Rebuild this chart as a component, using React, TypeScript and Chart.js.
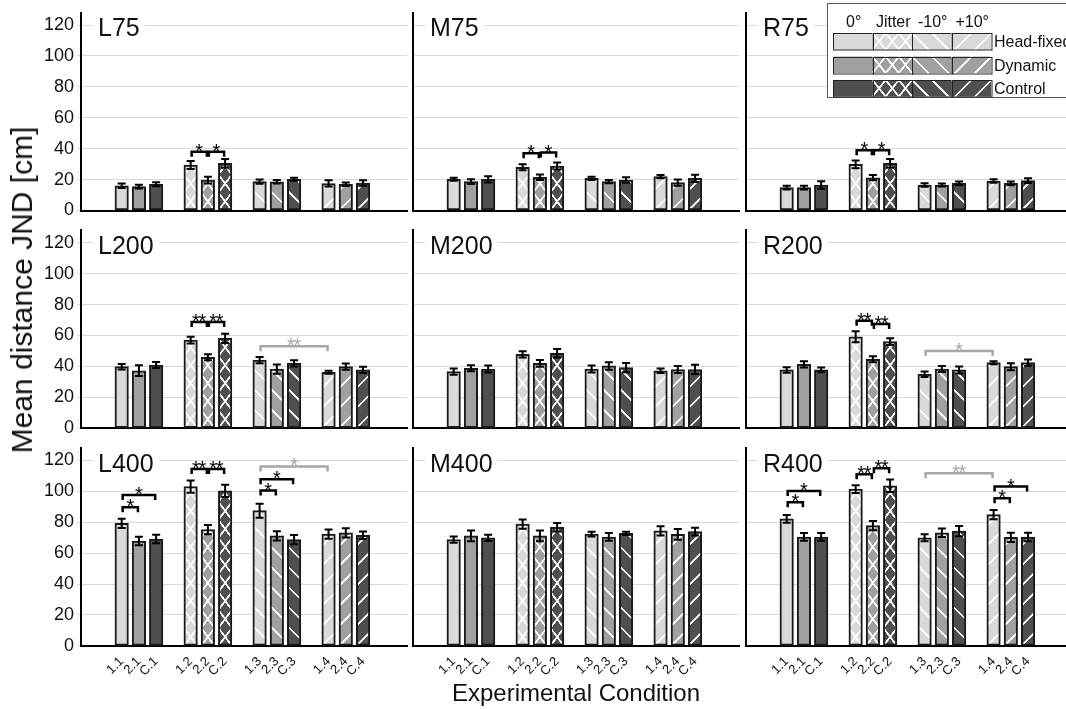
import React, { useEffect, useRef } from 'react';
import { Chart, registerables } from 'chart.js';

Chart.register(...registerables);

const FONT = "'Liberation Sans', Arial, Helvetica, sans-serif";

// ---------- data ----------
const conditionLabels = ['1.1', '2.1', 'C.1', '1.2', '2.2', 'C.2', '1.3', '2.3', 'C.3', '1.4', '2.4', 'C.4'];
const barSlots = [0, 1, 2, 4, 5, 6, 8, 9, 10, 12, 13, 14];
const seriesNames = ['Head-fixed', 'Dynamic', 'Control'];
const angleLabels = ['0°', 'Jitter', '-10°', '+10°'];
const panelNames = [
  ['L75', 'M75', 'R75'],
  ['L200', 'M200', 'R200'],
  ['L400', 'M400', 'R400'],
];
const yMax = 128;
const yStep = 20;

const meanL75 = [16, 15.5, 17, 29.4, 19.7, 30.5, 18.7, 18.6, 20.2, 17.5, 17, 17.8];
const errL75 = [1.5, 1.2, 1.3, 2.6, 2.2, 2.8, 1.4, 1.2, 1.0, 2.0, 1.2, 1.8];
const meanM75 = [20.2, 18.7, 20.2, 28, 21.5, 28.8, 20.8, 18.7, 19.7, 21.9, 18, 20.8];
const errM75 = [1.0, 1.5, 2.0, 2.0, 1.8, 2.3, 1.0, 1.0, 1.8, 1.0, 2.0, 2.3];
const meanR75 = [14.8, 14.8, 16.5, 29.9, 21.2, 30.5, 16.5, 16.5, 17.6, 19.1, 17.6, 19.3];
const errR75 = [1.2, 1.2, 2.5, 2.5, 1.7, 2.8, 1.2, 1.0, 1.2, 1.2, 1.2, 1.5];

const meanL200 = [39.8, 37.2, 40.9, 57, 45.9, 58.2, 44.1, 38.3, 42, 36.2, 39.8, 37.7];
const errL200 = [1.8, 3.5, 2, 2.2, 2, 3, 2, 3, 2, 1, 2, 2];
const meanM200 = [36.6, 38.8, 38.3, 47.8, 42, 48.5, 38.3, 40.3, 39.2, 37.2, 38, 38];
const errM200 = [2, 2, 2.3, 2, 2.2, 2.8, 2.2, 2.4, 3, 1.5, 2.3, 3];
const meanR200 = [37.7, 41.3, 37.7, 59.2, 44.6, 56, 34.9, 38.3, 37.7, 42.4, 39.8, 42.4];
const errR200 = [1.8, 2, 1.5, 3.5, 2, 2.2, 1.8, 2, 2.3, 1, 2.3, 2];

const meanL400 = [79.3, 67.9, 69.2, 103.1, 75.3, 100.3, 87.5, 71.2, 68.8, 72.3, 73.1, 71.6];
const errL400 = [3, 2.7, 2.7, 4, 3, 4, 4.5, 3, 3, 3, 3, 2.5];
const meanM400 = [68.8, 71.2, 69.9, 78.8, 71.2, 76.8, 72.3, 70.5, 72.8, 74.4, 72.2, 74];
const errM400 = [2, 3.5, 2, 3, 3.5, 2.7, 1.5, 2.5, 1, 3, 3.5, 2.5];
const meanR400 = [82.2, 70.5, 70.5, 101.5, 77.9, 103.6, 70, 73.2, 74.3, 84.9, 70.3, 70.5];
const errR400 = [2.5, 2.5, 2.5, 2.5, 3, 4, 2.3, 2.8, 3.3, 3, 3, 2.7];

type Sig = { from: number; to: number; level: number; mark: string; grey?: boolean };

const sigL75: Sig[] = [
  { from: 3, to: 4, level: 38, mark: '*' },
  { from: 4, to: 5, level: 38, mark: '*' },
];
const sigM75: Sig[] = [
  { from: 3, to: 4, level: 37, mark: '*' },
  { from: 4, to: 5, level: 37.5, mark: '*' },
];
const sigR75: Sig[] = [
  { from: 3, to: 4, level: 39, mark: '*' },
  { from: 4, to: 5, level: 39, mark: '*' },
];
const sigL200: Sig[] = [
  { from: 3, to: 4, level: 68.7, mark: '**' },
  { from: 4, to: 5, level: 68.7, mark: '**' },
  { from: 6, to: 9, level: 53, mark: '**', grey: true },
];
const sigM200: Sig[] = [];
const sigR200: Sig[] = [
  { from: 3, to: 4, level: 69.5, mark: '**' },
  { from: 4, to: 5, level: 67.5, mark: '**' },
  { from: 6, to: 9, level: 50, mark: '*', grey: true },
];
const sigL400: Sig[] = [
  { from: 0, to: 1, level: 89.7, mark: '*' },
  { from: 0, to: 2, level: 97.7, mark: '*' },
  { from: 3, to: 4, level: 114.4, mark: '**' },
  { from: 4, to: 5, level: 114.4, mark: '**' },
  { from: 6, to: 7, level: 100.5, mark: '*' },
  { from: 6, to: 8, level: 107.9, mark: '*' },
  { from: 6, to: 9, level: 116.1, mark: '*', grey: true },
];
const sigM400: Sig[] = [];
const sigR400: Sig[] = [
  { from: 0, to: 1, level: 92.9, mark: '*' },
  { from: 0, to: 2, level: 100.3, mark: '*' },
  { from: 3, to: 4, level: 111.1, mark: '**' },
  { from: 4, to: 5, level: 115, mark: '**' },
  { from: 6, to: 9, level: 111.8, mark: '**', grey: true },
  { from: 9, to: 10, level: 95.5, mark: '*' },
  { from: 9, to: 11, level: 103.1, mark: '*' },
];

const panelMeans = [
  [meanL75, meanM75, meanR75],
  [meanL200, meanM200, meanR200],
  [meanL400, meanM400, meanR400],
];
const panelErrs = [
  [errL75, errM75, errR75],
  [errL200, errM200, errR200],
  [errL400, errM400, errR400],
];
const panelSigs = [
  [sigL75, sigM75, sigR75],
  [sigL200, sigM200, sigR200],
  [sigL400, sigM400, sigR400],
];

// ---------- styles / layout ----------
const seriesColors = ['#d9d9d9', '#a0a0a0', '#4f4f4f'];
const fillKinds = ['solid', 'jitter', 'back', 'fwd'];
const BAR_W = 13.5;

const COL_X = [0, 409, 741];
const COL_W = [409, 332, 325];
const COL_PAD_L = [0, 4, 5];
const COL_PAD_R = [2, 2, 0];
const X_MIN = -2.36;
const X_MAX = [16.55, 16.55, 16.2];

const ROW_Y = [0, 219, 436];
const ROW_H = [219, 217, 244];
const ROW_PAD_T = [12.7, 11.4, 12.1];
const ROW_PAD_B = [8.5, 7.8, 4.1];

const tileCache = new Map<string, HTMLCanvasElement>();
function getTile(kind: string, color: string, w: number, h: number) {
  const key = `${kind}|${color}|${w}|${h}`;
  const cached = tileCache.get(key);
  if (cached) return cached;
  const t = document.createElement('canvas');
  t.width = Math.round(w * 4);
  t.height = Math.round(h * 4);
  const g = t.getContext('2d')!;
  g.scale(t.width / w, t.height / h);
  g.fillStyle = color;
  g.fillRect(0, 0, w, h);
  g.strokeStyle = '#ffffff';
  g.lineWidth = 1.8;
  for (const dx of [-w, 0, w]) {
    for (const dy of [-h, 0, h]) {
      g.beginPath();
      if (kind === 'jitter' || kind === 'back') {
        g.moveTo(dx, dy);
        g.lineTo(dx + w, dy + h);
      }
      if (kind === 'jitter' || kind === 'fwd') {
        g.moveTo(dx, dy + h);
        g.lineTo(dx + w, dy);
      }
      g.stroke();
    }
  }
  tileCache.set(key, t);
  return t;
}

function makeFill(
  ctx: CanvasRenderingContext2D,
  kind: string,
  color: string,
  ox: number,
  oy: number,
  w: number,
  h: number,
): string | CanvasPattern {
  if (kind === 'solid') return color;
  const tile = getTile(kind, color, w, h);
  const p = ctx.createPattern(tile, 'repeat');
  if (!p) return color;
  const m = new DOMMatrix();
  m.translateSelf(ox, oy);
  m.scaleSelf(w / tile.width, h / tile.height);
  p.setTransform(m);
  return p;
}

function drawLegend(ctx: CanvasRenderingContext2D) {
  const L = 86;
  const T = 3;
  ctx.save();
  ctx.fillStyle = '#ffffff';
  ctx.fillRect(L, T, 400, 95);
  ctx.strokeStyle = '#5a5a5a';
  ctx.lineWidth = 1;
  ctx.strokeRect(L + 0.5, T + 0.5, 400, 94);
  const cx0 = 92;
  const cw = 39.5;
  const rowsY = [33, 56.5, 80];
  const rh = 16.5;
  ctx.fillStyle = '#111';
  ctx.font = `16px ${FONT}`;
  ctx.textAlign = 'center';
  ctx.textBaseline = 'alphabetic';
  angleLabels.forEach((t, c) => ctx.fillText(t, cx0 + cw * c + cw / 2 + 1, 27));
  rowsY.forEach((ry, r) => {
    fillKinds.forEach((kind, c) => {
      const x = cx0 + cw * c;
      const jit = kind === 'jitter';
      ctx.fillStyle = makeFill(ctx, kind, seriesColors[r], x, ry, jit ? cw / 3 : 20, jit ? rh : 20);
      ctx.fillRect(x, ry, cw, rh);
      ctx.strokeStyle = '#222';
      ctx.lineWidth = 1;
      ctx.strokeRect(Math.round(x) + 0.5, Math.round(ry) + 0.5, cw, rh);
    });
    ctx.fillStyle = '#111';
    ctx.font = `16px ${FONT}`;
    ctx.textAlign = 'left';
    ctx.fillText(seriesNames[r], 253, ry + rh / 2 + 6);
  });
  ctx.restore();
}

function Panel({ row, col }: { row: number; col: number }) {
  const ref = useRef<HTMLCanvasElement>(null);
  useEffect(() => {
    const canvas = ref.current;
    if (!canvas) return;
    const name = panelNames[row][col];
    const means = panelMeans[row][col];
    const errs = panelErrs[row][col];
    const sigs = panelSigs[row][col];
    const withLegend = row === 0 && col === 2;

    const extras = {
      id: 'extras',
      afterDatasetsDraw(chart: any) {
        const { ctx, chartArea } = chart;
        const xs = chart.scales.x;
        const ys = chart.scales.y;
        ctx.save();
        ctx.strokeStyle = '#000';
        ctx.lineWidth = 2;
        means.forEach((m, i) => {
          const x = xs.getPixelForValue(barSlots[i]);
          const yT = ys.getPixelForValue(m + errs[i]);
          const yB = ys.getPixelForValue(m - errs[i]);
          ctx.beginPath();
          ctx.moveTo(x, yT);
          ctx.lineTo(x, yB);
          ctx.moveTo(x - 4, yT);
          ctx.lineTo(x + 4, yT);
          ctx.moveTo(x - 4, yB);
          ctx.lineTo(x + 4, yB);
          ctx.stroke();
        });
        sigs.forEach((s) => {
          const x1 = xs.getPixelForValue(barSlots[s.from]) + 1;
          const x2 = xs.getPixelForValue(barSlots[s.to]) - 1;
          const y = ys.getPixelForValue(s.level);
          const c = s.grey ? '#a8a8a8' : '#000';
          ctx.strokeStyle = c;
          ctx.lineWidth = 2.5;
          ctx.beginPath();
          ctx.moveTo(x1, y + 5);
          ctx.lineTo(x1, y);
          ctx.lineTo(x2, y);
          ctx.lineTo(x2, y + 5);
          ctx.stroke();
          ctx.fillStyle = c;
          ctx.font = `20px ${FONT}`;
          ctx.textAlign = 'center';
          ctx.textBaseline = 'alphabetic';
          const n = s.mark.length;
          const gap = 6.5;
          const cx = (x1 + x2) / 2;
          for (let k = 0; k < n; k++) {
            ctx.fillText('*', cx + (k - (n - 1) / 2) * gap, y + 6);
          }
        });
        ctx.font = `25px ${FONT}`;
        ctx.textAlign = 'left';
        ctx.textBaseline = 'alphabetic';
        const tx = chartArea.left + 17;
        const ty = chartArea.top + 23.5;
        const w = ctx.measureText(name).width;
        ctx.fillStyle = '#ffffff';
        ctx.fillRect(tx - 5, ty - 23, w + 10, 26);
        ctx.fillStyle = '#111';
        ctx.fillText(name, tx, ty);
        ctx.restore();
      },
      afterDraw(chart: any) {
        if (withLegend) drawLegend(chart.ctx);
      },
    };

    const chart = new Chart(canvas, {
      type: 'bar',
      data: {
        datasets: [
          {
            data: means.map((v, i) => ({ x: barSlots[i], y: v })),
            barThickness: BAR_W,
            borderWidth: 2,
            borderColor: '#1a1a1a',
            borderSkipped: false,
            backgroundColor: (c: any) => {
              const i = c.dataIndex ?? 0;
              const color = seriesColors[i % 3];
              const kind = fillKinds[Math.floor(i / 3)];
              if (kind === 'solid' || c.type !== 'data') return color;
              const xs = c.chart?.scales?.x;
              const ys = c.chart?.scales?.y;
              if (!xs || !ys) return color;
              const px = xs.getPixelForValue(barSlots[i]);
              const py = ys.getPixelForValue(0);
              if (!isFinite(px) || !isFinite(py)) return color;
              const jit = kind === 'jitter';
              return makeFill(c.chart.ctx, kind, color, px - BAR_W / 2, py, jit ? BAR_W : 20, jit ? 18 : 20);
            },
          } as any,
        ],
      },
      options: {
        responsive: false,
        animation: false,
        devicePixelRatio: 1,
        layout: {
          padding: {
            top: ROW_PAD_T[row],
            bottom: ROW_PAD_B[row],
            left: COL_PAD_L[col],
            right: COL_PAD_R[col],
          },
        },
        plugins: { legend: { display: false }, tooltip: { enabled: false }, title: { display: false } },
        scales: {
          x: {
            type: 'linear',
            min: X_MIN,
            max: X_MAX[col],
            offset: false,
            grid: { display: false, offset: false },
            border: { color: '#000', width: 2 },
            ticks: {
              display: row === 2,
              autoSkip: false,
              maxRotation: 45,
              minRotation: 45,
              padding: 0,
              color: '#111',
              font: { family: FONT, size: 13 },
              callback: (_v: any, i: number) => conditionLabels[i] ?? '',
            },
            afterBuildTicks: (s: any) => {
              s.ticks = barSlots.map((v) => ({ value: v }));
            },
            afterFit: (s: any) => {
              s.height = row === 2 ? 30 : 0;
              s.paddingLeft = 0;
              s.paddingRight = 0;
            },
          } as any,
          y: {
            min: 0,
            max: yMax,
            ticks: {
              stepSize: yStep,
              includeBounds: false,
              display: col === 0,
              padding: 3,
              color: '#111',
              font: { family: FONT, size: 18 },
            },
            grid: { color: '#d9d9d9', lineWidth: 1, drawTicks: col === 0, tickLength: 4 },
            border: { color: '#000', width: 2 },
            afterFit: (s: any) => {
              s.width = col === 0 ? 81 : 0;
              s.paddingTop = 0;
              s.paddingBottom = 0;
            },
          } as any,
        },
      },
      plugins: [extras as any],
    });
    return () => chart.destroy();
  }, [row, col]);

  return (
    <canvas
      ref={ref}
      width={COL_W[col]}
      height={ROW_H[row]}
      style={{
        position: 'absolute',
        left: COL_X[col],
        top: ROW_Y[row],
        width: COL_W[col],
        height: ROW_H[row],
      }}
    />
  );
}

export default function App() {
  const cells: React.ReactNode[] = [];
  for (let r = 0; r < 3; r++) {
    for (let c = 0; c < 3; c++) {
      cells.push(<Panel key={`${r}-${c}`} row={r} col={c} />);
    }
  }
  return (
    <div
      style={{
        position: 'fixed',
        left: 0,
        top: 0,
        width: 1066,
        height: 709,
        background: '#fff',
        overflow: 'hidden',
      }}
    >
      {cells}
      <div
        style={{
          position: 'absolute',
          left: 22,
          top: 290,
          transform: 'translate(-50%, -50%) rotate(-90deg)',
          whiteSpace: 'nowrap',
          font: `30px ${FONT}`,
          color: '#111',
        }}
      >
        Mean distance JND [cm]
      </div>
      <div
        style={{
          position: 'absolute',
          left: 576,
          top: 693,
          transform: 'translate(-50%, -50%)',
          whiteSpace: 'nowrap',
          font: `24px ${FONT}`,
          color: '#111',
        }}
      >
        Experimental Condition
      </div>
    </div>
  );
}
